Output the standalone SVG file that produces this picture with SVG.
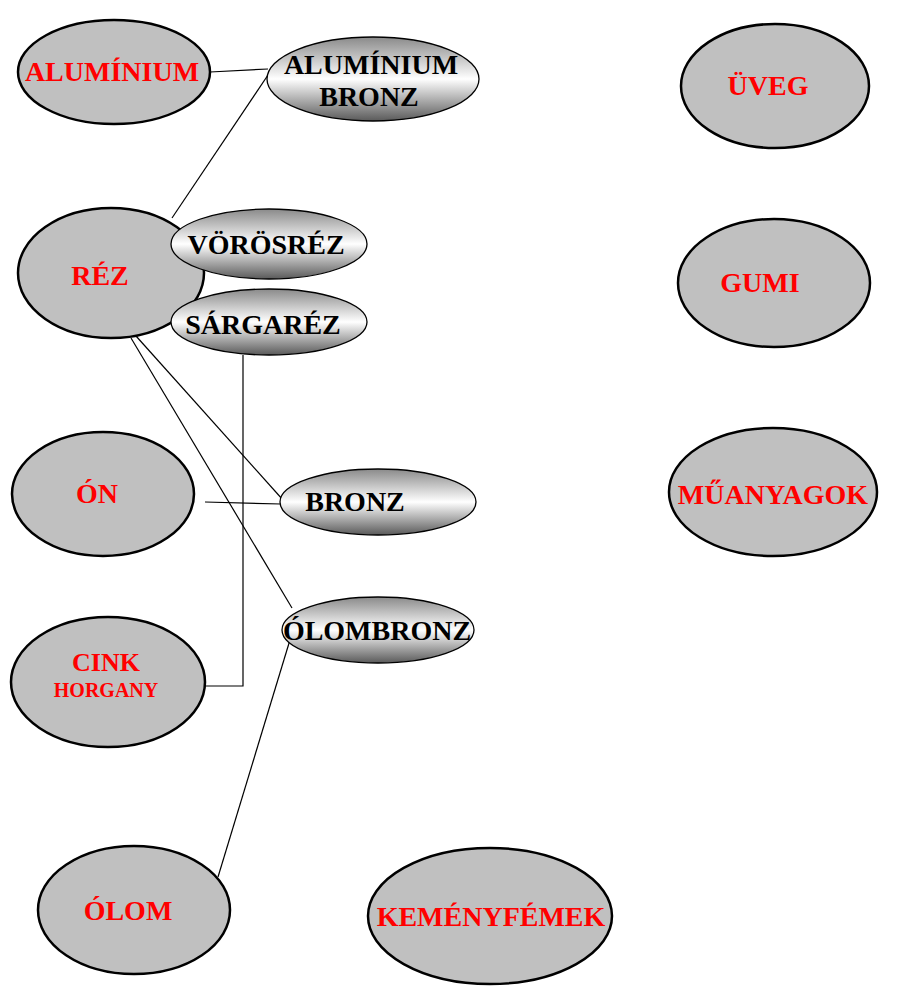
<svg xmlns="http://www.w3.org/2000/svg" width="907" height="998" viewBox="0 0 907 998">
<defs>
<linearGradient id="g" x1="0" y1="0" x2="0" y2="1">
<stop offset="0" stop-color="#8a8a8a"/>
<stop offset="0.5" stop-color="#ffffff"/>
<stop offset="1" stop-color="#5a5a5a"/>
</linearGradient>
</defs>
<style>
.m{fill:#c0c0c0;stroke:#000;stroke-width:2.5}
.a{fill:url(#g);stroke:#000;stroke-width:1.3}
.r{fill:#ff0000;font-family:"Liberation Serif","Times New Roman",serif;font-weight:bold;font-size:28px;text-anchor:middle}
.b{fill:#000;font-family:"Liberation Serif","Times New Roman",serif;font-weight:bold;font-size:28px;text-anchor:middle}
.c{fill:none;stroke:#000;stroke-width:1.2}
</style>
<g id="connectors">
<line class="c" x1="210" y1="72" x2="268" y2="69"/>
<line class="c" x1="172" y1="218" x2="270" y2="72"/>
<polyline class="c" points="243,355 243,686 205,686"/>
<line class="c" x1="205" y1="502" x2="281" y2="504"/>
<line class="c" x1="136" y1="336" x2="283" y2="500"/>
<line class="c" x1="131" y1="338" x2="292" y2="608"/>
<line class="c" x1="293" y1="630" x2="218" y2="877"/>
</g>
<g id="aluminium"><ellipse class="m" cx="114" cy="72" rx="96" ry="52"/><text class="r" x="112" y="81">ALUMÍNIUM</text></g>
<g id="aluminium-bronz"><ellipse class="a" cx="373" cy="79" rx="106" ry="42"/><text class="b" x="371" y="74">ALUMÍNIUM</text><text class="b" x="369" y="106">BRONZ</text></g>
<g id="uveg"><ellipse class="m" cx="775" cy="86" rx="94" ry="62"/><text class="r" x="768" y="95">ÜVEG</text></g>
<g id="rez"><ellipse class="m" cx="111" cy="273" rx="93" ry="65"/><text class="r" x="100" y="285">RÉZ</text></g>
<g id="vorosrez"><ellipse class="a" cx="269" cy="244" rx="98" ry="35"/><text class="b" x="266" y="254">VÖRÖSRÉZ</text></g>
<g id="sargarez"><ellipse class="a" cx="269" cy="322" rx="98" ry="33"/><text class="b" x="263" y="334">SÁRGARÉZ</text></g>
<g id="gumi"><ellipse class="m" cx="774" cy="283" rx="96" ry="64"/><text class="r" x="760" y="292">GUMI</text></g>
<g id="on"><ellipse class="m" cx="103" cy="494" rx="91" ry="62"/><text class="r" x="97" y="503">ÓN</text></g>
<g id="bronz"><ellipse class="a" cx="378" cy="502" rx="98" ry="33"/><text class="b" x="355" y="511">BRONZ</text></g>
<g id="muanyagok"><ellipse class="m" cx="773" cy="492" rx="104" ry="64"/><text class="r" x="773" y="504">MŰANYAGOK</text></g>
<g id="cink"><ellipse class="m" cx="108" cy="682" rx="97" ry="65"/><text class="r" x="106" y="671" style="font-size:26px">CINK</text><text class="r" x="106" y="697" style="font-size:20px">HORGANY</text></g>
<g id="olombronz"><ellipse class="a" cx="378" cy="630" rx="96" ry="33"/><text class="b" x="377" y="640">ÓLOMBRONZ</text></g>
<g id="olom"><ellipse class="m" cx="134" cy="910" rx="96" ry="64"/><text class="r" x="128" y="920">ÓLOM</text></g>
<g id="kemenyfemek"><ellipse class="m" cx="490" cy="916" rx="122" ry="68"/><text class="r" x="491" y="926">KEMÉNYFÉMEK</text></g>
</svg>
